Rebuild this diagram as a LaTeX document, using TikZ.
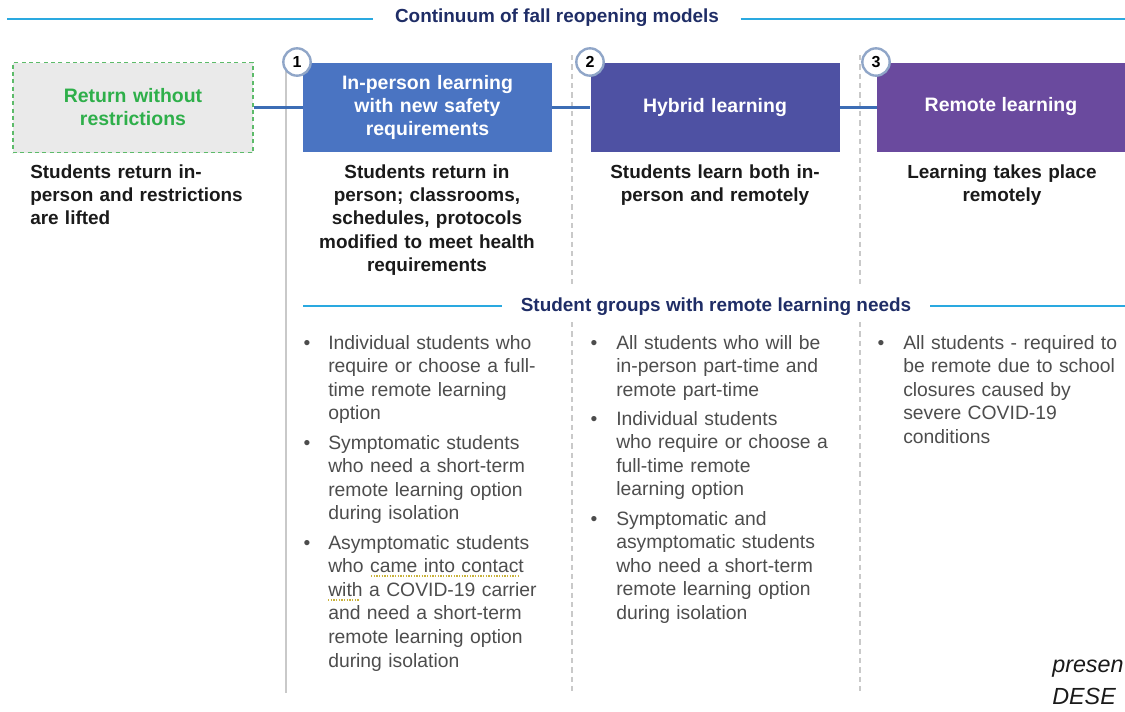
\documentclass[tikz,border=0pt]{standalone}
\usepackage{fontspec}
\setmainfont{Liberation Sans}
\definecolor{navy}{HTML}{1F2D66}
\definecolor{cyanl}{HTML}{2AA9E0}
\definecolor{boxA}{HTML}{4A74C2}
\definecolor{boxB}{HTML}{4E51A3}
\definecolor{boxC}{HTML}{6A4A9E}
\definecolor{connc}{HTML}{3C6DB5}
\definecolor{greentxt}{HTML}{2EAF4A}
\definecolor{greenb}{HTML}{5DBB6A}
\definecolor{grayfill}{HTML}{EAEAEA}
\definecolor{circb}{HTML}{90A6C8}
\definecolor{sepc}{HTML}{C9C9C9}
\definecolor{desct}{HTML}{1A1A1A}
\definecolor{bult}{HTML}{4D4D4D}
\definecolor{spellc}{HTML}{C9B23A}
\begin{document}
\begin{tikzpicture}[x=0.75pt,y=-0.75pt,
  hdr/.style={font=\fontsize{14.2pt}{17pt}\selectfont\bfseries, text=navy, inner xsep=16pt, inner ysep=0pt},
  cyanline/.style={draw=cyanl, line width=1.9pt},
  modelbox/.style={rectangle, minimum width=186.75pt, minimum height=66.75pt, inner sep=0pt,
    text=white, align=center, text width=180pt, font=\fontsize{14.6pt}{17.3pt}\selectfont\bfseries},
  conn/.style={draw=connc, line width=1.8pt},
  numcirc/.style={circle, draw=circb, line width=1.8pt, fill=white, minimum size=20.5pt, inner sep=0pt,
    font=\fontsize{12pt}{14pt}\selectfont\bfseries},
  desc/.style={font=\fontsize{14.2pt}{17.6pt}\selectfont\bfseries, text=desct, inner sep=0pt},
  bul/.style={font=\fontsize{14.5pt}{17.7pt}\selectfont, text=bult, inner sep=0pt, text width=200pt, align=left, anchor=base west},
  dot/.style={font=\fontsize{14.5pt}{17.7pt}\selectfont, text=bult, inner sep=0pt, anchor=base},
  sepsolid/.style={draw=sepc, line width=1.1pt},
  sepdash/.style={draw=sepc, line width=0.9pt, dash pattern=on 4pt off 3pt},
  spell/.style={draw=spellc, line width=0.9pt, dash pattern=on 1pt off 1pt},
  foot/.style={font=\fontsize{17.5pt}{20pt}\selectfont\itshape, text=desct, anchor=base west, inner sep=0pt}
]
\useasboundingbox (0,0) rectangle (1125,711);

% top header
\node[hdr] (t1) at (557,18) {Continuum of fall reopening models};
\coordinate (tl) at (7,19);
\coordinate (tr) at (1125,19);
\draw[cyanline] (tl) -- (tl -| t1.west);
\draw[cyanline] (tr -| t1.east) -- (tr);

% separators
\coordinate (s0a) at (286,55);
\coordinate (s0b) at (286,693);
\draw[sepsolid] (s0a) -- (s0b);
\coordinate (s1a) at (572,55);
\coordinate (s1b) at (572,288);
\coordinate (s1c) at (572,322);
\coordinate (s1d) at (572,693);
\draw[sepdash] (s1a) -- (s1b);
\draw[sepdash] (s1c) -- (s1d);
\coordinate (s2a) at (860,55);
\coordinate (s2b) at (860,288);
\coordinate (s2c) at (860,322);
\coordinate (s2d) at (860,693);
\draw[sepdash] (s2a) -- (s2b);
\draw[sepdash] (s2c) -- (s2d);

% model boxes
\node[modelbox, minimum width=175.5pt, minimum height=67.5pt, fill=grayfill, draw=greenb, line width=0.8pt,
  dash pattern=on 3pt off 2.5pt, text=greentxt] (ret) at (133,107.5) {Return without\\restrictions};
\node[modelbox, fill=boxA] (inp) at (427.5,107.5) {In-person learning\\with new safety\\requirements};
\node[modelbox, fill=boxB] (hyb) at (715,107.5) {Hybrid learning};
\node[modelbox, fill=boxC, minimum width=190pt, text width=180pt] (rem) at (1003.5,107.5) {};
\node[font=\fontsize{14.6pt}{17.3pt}\selectfont\bfseries, text=white, inner sep=0pt] (remt) at (1001,107) {Remote learning};

\draw[conn] (ret.east) -- (inp.west);
\draw[conn] (inp.east) -- (hyb.west);
\draw[conn] (hyb.east) -- (rem.west);

\node[numcirc] (n1) at (297,62) {1};
\node[numcirc] (n2) at (590,62) {2};
\node[numcirc] (n3) at (876,62) {3};

% descriptions
\node[desc, anchor=base west, text width=200pt, align=left] (d0) at (30,178) {Students return in-\\person and restrictions\\are lifted};
\node[desc, anchor=base, text width=200pt, align=center] (d1) at (427,178) {Students return in\\person; classrooms,\\schedules, protocols\\modified to meet health\\requirements};
\node[desc, anchor=base, text width=200pt, align=center] (d2) at (715,178) {Students learn both in-\\person and remotely};
\node[desc, anchor=base, text width=200pt, align=center] (d3) at (1002,178) {Learning takes place\\remotely};

% second header
\node[hdr, inner xsep=14pt] (t2) at (716,307) {Student groups with remote learning needs};
\coordinate (hl) at (303,306);
\coordinate (hr) at (1125,306);
\draw[cyanline] (hl) -- (hl -| t2.west);
\draw[cyanline] (hr -| t2.east) -- (hr);

% column 1 bullets
\node[dot] (p11) at (307,349) {•};
\node[bul] (b11) at (328,349) {Individual students who\\require or choose a full-\\time remote learning\\option};
\node[dot] (p12) at (307,449) {•};
\node[bul] (b12) at (328,449) {Symptomatic students\\who need a short-term\\remote learning option\\during isolation};
\node[dot] (p13) at (307,549) {•};
\node[bul] (b13) at (328,549) {Asymptomatic students\\who came into contact\\with a COVID-19 carrier\\and need a short-term\\remote learning option\\during isolation};
\coordinate (u1a) at (371,576);
\coordinate (u1b) at (520,576);
\coordinate (u2a) at (328,600);
\coordinate (u2b) at (359,600);
\draw[spell] (u1a) -- (u1b);
\draw[spell] (u2a) -- (u2b);

% column 2 bullets
\node[dot] (p21) at (594,349) {•};
\node[bul] (b21) at (616,349) {All students who will be\\in-person part-time and\\remote part-time};
\node[dot] (p22) at (594,425) {•};
\node[bul] (b22) at (616,425) {Individual students\\who require or choose a\\full-time remote\\learning option};
\node[dot] (p23) at (594,525) {•};
\node[bul] (b23) at (616,525) {Symptomatic and\\asymptomatic students\\who need a short-term\\remote learning option\\during isolation};

% column 3 bullets
\node[dot] (p31) at (881,349) {•};
\node[bul] (b31) at (903,349) {All students - required to\\be remote due to school\\closures caused by\\severe COVID-19\\conditions};

% footer fragments
\node[foot] (f1) at (1052,672) {presen};
\node[foot] (f2) at (1052,704) {DESE};
\end{tikzpicture}
\end{document}
